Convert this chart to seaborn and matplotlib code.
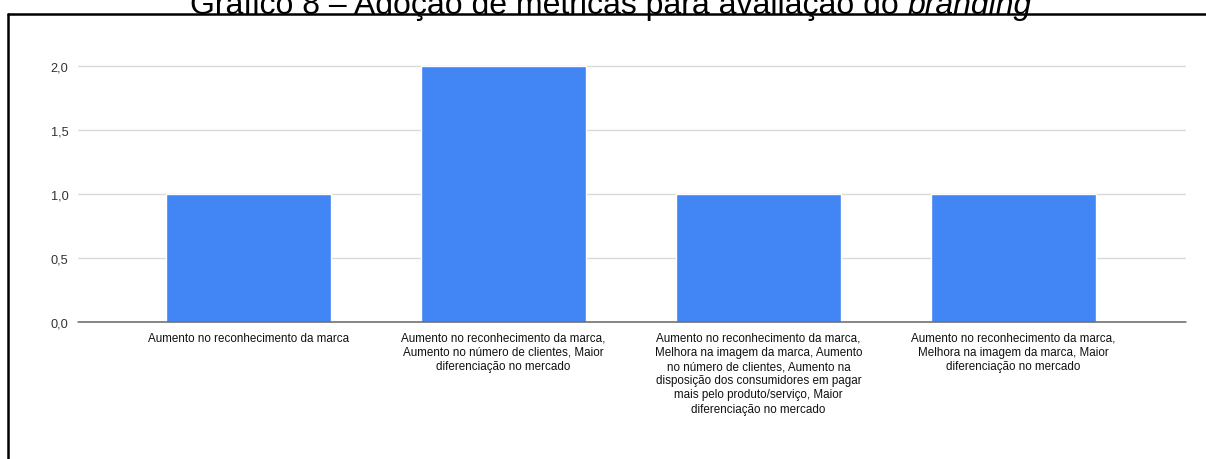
import matplotlib
matplotlib.use("Agg")
import matplotlib.pyplot as plt
from matplotlib.lines import Line2D
import seaborn as sns
import pandas as pd

# Data
categories = [
    "Aumento no reconhecimento da marca",
    "Aumento no reconhecimento da marca, Aumento no número de clientes, Maior diferenciação no mercado",
    "Aumento no reconhecimento da marca, Melhora na imagem da marca, Aumento no número de clientes, "
    "Aumento na disposição dos consumidores em pagar mais pelo produto/serviço, Maior diferenciação no mercado",
    "Aumento no reconhecimento da marca, Melhora na imagem da marca, Maior diferenciação no mercado",
]
values = [1, 2, 1, 1]
tick_labels = [
    "Aumento no reconhecimento da marca",
    "Aumento no reconhecimento da marca,\nAumento no número de clientes, Maior\ndiferenciação no mercado",
    "Aumento no reconhecimento da marca,\nMelhora na imagem da marca, Aumento\nno número de clientes, Aumento na\n"
    "disposição dos consumidores em pagar\nmais pelo produto/serviço, Maior\ndiferenciação no mercado",
    "Aumento no reconhecimento da marca,\nMelhora na imagem da marca, Maior\ndiferenciação no mercado",
]
y_ticks = [0.0, 0.5, 1.0, 1.5, 2.0]
y_tick_labels = ["0,0", "0,5", "1,0", "1,5", "2,0"]

sns.set_theme(style="white")
plt.rcParams["font.family"] = ["Liberation Sans", "DejaVu Sans"]

df = pd.DataFrame({"categoria": categories, "valor": values})

W, H = 1206, 460
fig = plt.figure(figsize=(W / 100, H / 100), dpi=100)
ax = fig.add_axes([78 / W, 1 - 323 / H, (1186 - 78) / W, (323 - 41.4) / H])

sns.barplot(data=df, x="categoria", y="valor", color="#4285F4", width=0.647,
            saturation=1, ax=ax, zorder=3)

ax.set_ylim(0, 2.2)
ax.set_xlim(-0.669, 3.676)
ax.set_yticks(y_ticks)
ax.set_yticklabels(y_tick_labels, fontsize=9.2, color="#333333")
ax.set_xticks(range(len(tick_labels)))
ax.set_xticklabels(tick_labels, fontsize=8.4, color="#111111", linespacing=1.24,
                   ha="center", va="top")
ax.tick_params(axis="y", length=0, pad=7)
ax.tick_params(axis="x", length=0, pad=7)
ax.set_xlabel("")
ax.set_ylabel("")

for y in y_ticks[1:]:
    ax.axhline(y, color="#d9d9d9", linewidth=1.0, zorder=1)
ax.axhline(0, color="#666666", linewidth=1.1, zorder=4, clip_on=False)

for s in ax.spines.values():
    s.set_visible(False)

# Title: regular part followed by the italic word
title_y = 1 - 14 / H
fs_title = 23
t1 = fig.text(0.5, title_y, "Gráfico 8 – Adoção de métricas para avaliação do ",
              fontsize=fs_title, ha="left", va="baseline", color="black")
t2 = fig.text(0.5, title_y, "branding", fontsize=fs_title, style="italic",
              ha="left", va="baseline", color="black")
fig.canvas.draw()
r = fig.canvas.get_renderer()
w1 = t1.get_window_extent(r).width
w2 = t2.get_window_extent(r).width
x0 = 611 - (w1 + w2) / 2
t1.set_x(x0 / W)
t2.set_x((x0 + w1) / W)

# Surrounding frame
fig.add_artist(Line2D([8 / W, 8 / W], [0, 1 - 15 / H], transform=fig.transFigure,
                      color="black", linewidth=1.8))
fig.add_artist(Line2D([8 / W, 1], [1 - 15 / H, 1 - 15 / H], transform=fig.transFigure,
                      color="black", linewidth=1.8))

fig.savefig("out.png", dpi=100)
